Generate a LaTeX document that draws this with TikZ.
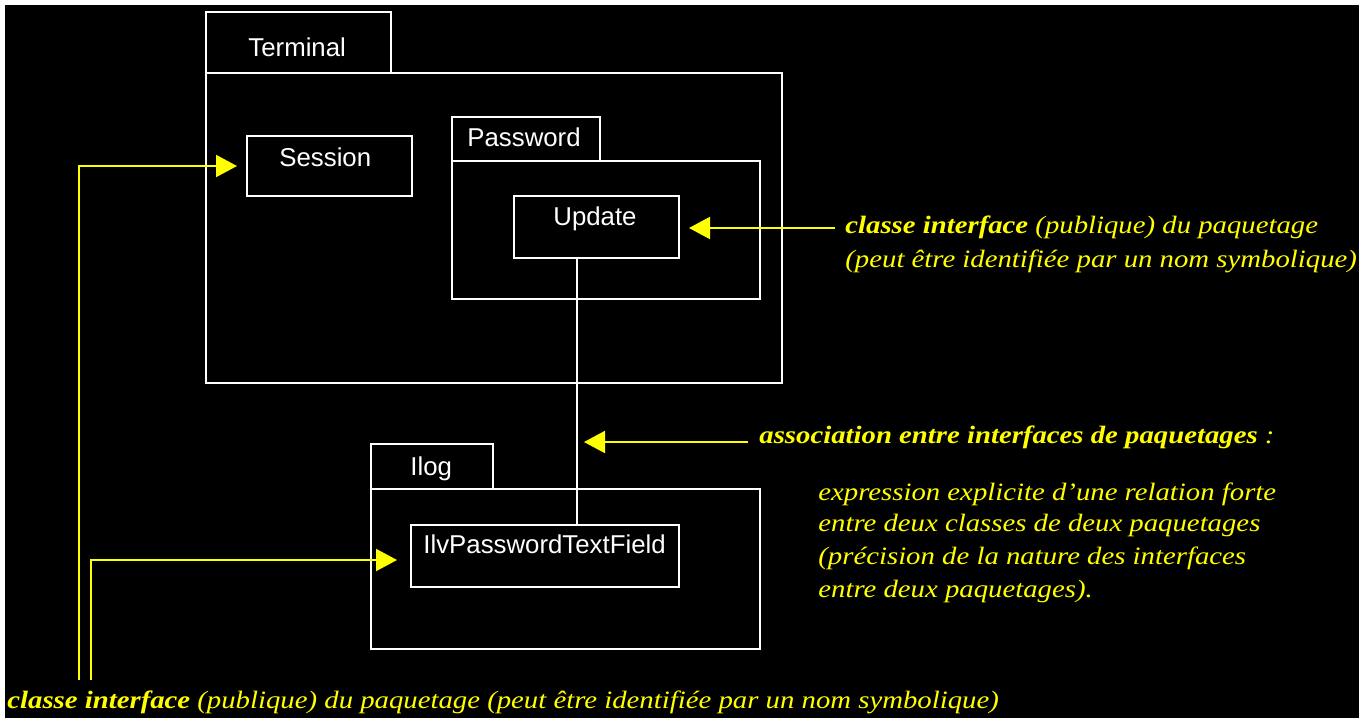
\documentclass[tikz,border=0pt]{standalone}
\usepackage{fontspec}
\setmainfont{Liberation Serif}
\newfontfamily\annfont[FakeStretch=1.15]{Liberation Serif}
\newfontfamily\umlfont{Liberation Sans}
\usetikzlibrary{arrows.meta,fit}
\definecolor{annyellow}{RGB}{255,255,0}
\begin{document}
\begin{tikzpicture}[x=0.5pt,y=-0.5pt,
  pkg/.style={draw=white, line width=1pt, inner sep=0pt},
  umltext/.style={text=white, font=\umlfont\fontsize{12.9pt}{15pt}\selectfont, anchor=base west, inner sep=0pt},
  anntext/.style={text=annyellow, font=\annfont\itshape\fontsize{12.5pt}{15pt}\selectfont, anchor=base west, inner sep=0pt},
  yarrow/.style={draw=annyellow, line width=1pt, -{Triangle[length=10.5pt,width=11pt]}}]
\useasboundingbox (0,0) rectangle (1369,718);
\fill[white] (0,0) rectangle (1369,718);
\fill[black] (5,5) rectangle (1359,718);
% packages
\node[pkg, fit={(206,12)(391,73)}] (termtab) {};
\node[pkg, fit={(206,73)(782,383)}] (termbody) {};
\node[pkg, fit={(247,136)(412,196)}] (session) {};
\node[pkg, fit={(452,117)(600,161)}] (passtab) {};
\node[pkg, fit={(452,161)(760,299)}] (passbody) {};
\node[pkg, fit={(514,196)(679,258)}] (update) {};
\node[pkg, fit={(371,444)(493,489)}] (ilogtab) {};
\node[pkg, fit={(371,489)(760,649)}] (ilogbody) {};
\node[pkg, fit={(411,525)(679,587)}] (ilv) {};
% white labels
\node[umltext] (lterm) at (248,56) {Terminal};
\node[umltext] (lsess) at (279,166) {Session};
\node[umltext] (lpass) at (467,146) {Password};
\node[umltext] (lupd) at (553,225) {Update};
\node[umltext] (lilog) at (410,475) {Ilog};
\node[umltext] (lilv) at (423,553) {IlvPasswordTextField};
% association line
\coordinate (link) at (577,0);
\draw[white, line width=1pt] (update.south -| link) -- (ilv.north -| link);
% annotations
\node[anntext] (ann1a) at (845,233) {\textbf{classe interface} (publique) du paquetage};
\node[anntext] (ann1b) at (845,267) {(peut être identifiée par un nom symbolique)};
\node[anntext] (ann2) at (759,443) {\textbf{association entre interfaces de paquetages} :};
\node[anntext] (ann3a) at (818,500) {expression explicite d’une relation forte};
\node[anntext] (ann3b) at (818,531) {entre deux classes de deux paquetages};
\node[anntext] (ann3c) at (818,564) {(précision de la nature des interfaces};
\node[anntext] (ann3d) at (818,597) {entre deux paquetages).};
\node[anntext] (ann4) at (7,708) {\textbf{classe interface} (publique) du paquetage (peut être identifiée par un nom symbolique)};
% yellow arrows
\coordinate (s1) at (79,680);
\coordinate (s2) at (91,680);
\coordinate (u1) at (835,228);
\coordinate (as1) at (748,442);
\draw[yarrow, shorten >=4.5pt] (s1) |- (session.west);
\draw[yarrow, shorten >=6.5pt] (s2) |- ([yshift=-2pt]ilv.west);
\draw[yarrow, shorten >=4.5pt] (u1) -- (u1 -| update.east);
\draw[yarrow, shorten >=3.5pt] (as1) -- (as1 -| link);
\end{tikzpicture}
\end{document}
